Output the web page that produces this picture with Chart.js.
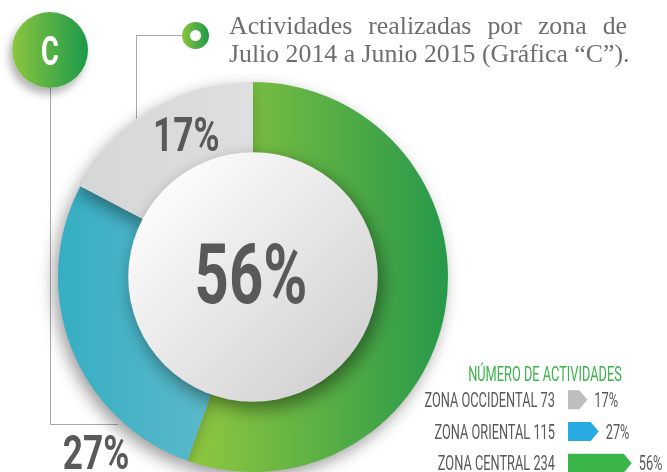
<!DOCTYPE html>
<html lang="es">
<head>
<meta charset="utf-8">
<title>Gráfica C</title>
<script src="https://cdn.jsdelivr.net/npm/chart.js@4.4.1/dist/chart.umd.min.js"></script>
<style>
  html, body { margin: 0; padding: 0; background: #fff; overflow: hidden; }
  #page { position: relative; width: 667px; height: 472px; overflow: hidden; }
  .abs { position: absolute; }
  .lead { border: 0 solid #a7a9ac; }
  #badge {
    left: 12px; top: 12px; width: 76px; height: 76px; border-radius: 50%;
    background: linear-gradient(90deg, #8cc63f, #1b994a);
    box-shadow: -3px 6px 9px rgba(0,0,0,0.3);
  }
  #badge span {
    position: absolute; left: 0; width: 76px; top: 16px; text-align: center;
    font: 700 40px Roboto, sans-serif; color: #fff; transform: scaleX(0.68);
  }
  #dot {
    left: 182px; top: 22px; width: 27px; height: 27px; border-radius: 50%;
    background: linear-gradient(90deg, #8cc63f, #1b994a);
  }
  #dot i { position: absolute; left: 8px; top: 8px; width: 11px; height: 11px; border-radius: 50%; background: #fff; }
  #title { left: 229px; top: 12px; width: 398px; font: 25.8px/28px "Liberation Serif", serif; color: #6d6e71; }
  #title div { white-space: nowrap; }
  #title .j { text-align: justify; text-align-last: justify; white-space: normal; }
  #legendTitle {
    left: 395px; top: 362px; width: 300px; text-align: center; white-space: nowrap;
    font: 400 20px Roboto, sans-serif; color: #3bb34a; transform: scaleX(0.64);
  }
</style>
</head>
<body>
<div id="page">
  <div class="abs lead" style="left:50px;top:88px;width:67px;height:336px;border-left-width:1px;border-bottom-width:1px;"></div>
  <div class="abs lead" style="left:136px;top:35px;width:46px;height:83px;border-left-width:1px;border-top-width:1px;"></div>
  <canvas id="donut" class="abs" width="667" height="472" style="left:0;top:0;"></canvas>
  <canvas id="bars" class="abs" width="267" height="95" style="left:400px;top:384px;"></canvas>
  <div id="badge" class="abs"><span>C</span></div>
  <div id="dot" class="abs"><i></i></div>
  <div id="title" class="abs">
    <div class="j">Actividades realizadas por zona de</div>
    <div>Julio 2014 a Junio 2015 (Gráfica “C”).</div>
  </div>
  <div id="legendTitle" class="abs">NÚMERO DE ACTIVIDADES</div>
</div>
<script>
// data
const zones = ["ZONA OCCIDENTAL", "ZONA ORIENTAL", "ZONA CENTRAL"];
const activities = [73, 115, 234];
const percents = [17, 27, 56];
const legendColors = ["#bcbec0", "#27a9e1", "#39b54a"];

const TEXT_GRAY = "#58595b";

// condensed text on canvas (no condensed fonts installed, so squash Roboto)
function condText(ctx, text, x, y, size, weight, color, sx, align) {
  ctx.save();
  ctx.font = weight + " " + size + "px Roboto, sans-serif";
  ctx.fillStyle = color;
  ctx.textBaseline = "alphabetic";
  ctx.textAlign = "left";
  const w = ctx.measureText(text).width * sx;
  const left = align === "center" ? x - w / 2 : align === "right" ? x - w : x;
  ctx.translate(left, y);
  ctx.scale(sx, 1);
  ctx.fillText(text, 0, 0);
  ctx.restore();
}

// --- Donut ---
// clockwise from top: central, oriental, occidental
const donutOrder = [2, 1, 0];

function ringFill(c) {
  const { ctx, chartArea } = c.chart;
  if (!chartArea) return "#ccc";
  const zi = donutOrder[c.dataIndex];
  let g;
  if (zi === 2) {
    g = ctx.createLinearGradient(chartArea.left + 140, 0, chartArea.right, 0);
    g.addColorStop(0, "#8dc63f");
    g.addColorStop(1, "#27994a");
  } else if (zi === 1) {
    g = ctx.createLinearGradient(chartArea.left, 0, chartArea.left + 150, 0);
    g.addColorStop(0, "#36aec3");
    g.addColorStop(1, "#5ab9c9");
  } else {
    g = ctx.createLinearGradient(chartArea.left + 40, 0, chartArea.left + 200, 0);
    g.addColorStop(0, "#d6d7d7");
    g.addColorStop(1, "#dedfdf");
  }
  return g;
}

const donutDecor = {
  id: "donutDecor",
  beforeDatasetsDraw(chart) {
    const ctx = chart.ctx;
    ctx.save();
    ctx.shadowColor = "rgba(0,0,0,0.38)";
    ctx.shadowBlur = 16;
    ctx.shadowOffsetX = -4;
    ctx.shadowOffsetY = 6;
  },
  afterDatasetsDraw(chart) {
    const ctx = chart.ctx;
    ctx.restore();
    const arcs = chart.getDatasetMeta(0).data;
    const cx = arcs[0].x, cy = arcs[0].y;
    const outer = arcs[0].outerRadius;
    const discR = outer * 0.64;

    // inner disc
    ctx.save();
    ctx.shadowColor = "rgba(0,0,0,0.45)";
    ctx.shadowBlur = 18;
    ctx.shadowOffsetX = 4;
    ctx.shadowOffsetY = 7;
    const g = ctx.createLinearGradient(cx - discR * 0.7, cy - discR * 0.7, cx + discR * 0.7, cy + discR * 0.7);
    g.addColorStop(0, "#fbfbfb");
    g.addColorStop(1, "#d3d3d3");
    ctx.fillStyle = g;
    ctx.beginPath();
    ctx.arc(cx, cy, discR, 0, Math.PI * 2);
    ctx.fill();
    ctx.restore();

    // labels
    donutOrder.forEach((zi, i) => {
      const txt = percents[zi] + "%";
      if (zi === 2) {
        condText(ctx, txt, cx - 2, cy + 26, 83, 700, TEXT_GRAY, 0.72, "center");
      } else if (zi === 0) {
        const p = arcs[i].getCenterPoint();
        condText(ctx, txt, p.x + 14, p.y + 8, 49, 700, TEXT_GRAY, 0.72, "center");
      } else {
        condText(ctx, txt, cx - 157, cy + 192, 49, 700, TEXT_GRAY, 0.72, "center");
      }
    });
  }
};

new Chart(document.getElementById("donut"), {
  type: "doughnut",
  data: {
    labels: donutOrder.map(i => zones[i]),
    datasets: [{
      data: donutOrder.map(i => activities[i]),
      backgroundColor: ringFill,
      borderWidth: 0
    }]
  },
  options: {
    responsive: false,
    animation: false,
    cutout: "60%",
    layout: { padding: { left: 58, top: 82, right: 219, bottom: 0 } },
    plugins: { legend: { display: false }, tooltip: { enabled: false } }
  },
  plugins: [donutDecor]
});

// --- Legend bars ---
const arrowBars = {
  id: "arrowBars",
  afterDatasetsDraw(chart) {
    const ctx = chart.ctx;
    chart.getDatasetMeta(0).data.forEach((bar, i) => {
      const h = bar.height, top = bar.y - h / 2, tip = 8;
      ctx.save();
      ctx.fillStyle = legendColors[i];
      ctx.beginPath();
      ctx.moveTo(bar.base, top);
      ctx.lineTo(bar.x - tip, top);
      ctx.lineTo(bar.x, bar.y);
      ctx.lineTo(bar.x - tip, top + h);
      ctx.lineTo(bar.base, top + h);
      ctx.closePath();
      ctx.fill();
      ctx.restore();
      condText(ctx, zones[i] + " " + activities[i], bar.base - 13, bar.y + 7, 20, 400, TEXT_GRAY, 0.64, "right");
      condText(ctx, percents[i] + "%", bar.x + 7, bar.y + 7, 20, 400, TEXT_GRAY, 0.64, "left");
    });
  }
};

new Chart(document.getElementById("bars"), {
  type: "bar",
  data: {
    labels: zones,
    datasets: [{
      data: percents,
      backgroundColor: "rgba(0,0,0,0)",
      barThickness: 19
    }]
  },
  options: {
    indexAxis: "y",
    responsive: false,
    animation: false,
    layout: { padding: { left: 168, right: 8, top: 0, bottom: 0 } },
    scales: {
      x: { display: false, min: 0, max: 80 },
      y: { display: false }
    },
    plugins: { legend: { display: false }, tooltip: { enabled: false } }
  },
  plugins: [arrowBars]
});
</script>
</body>
</html>
